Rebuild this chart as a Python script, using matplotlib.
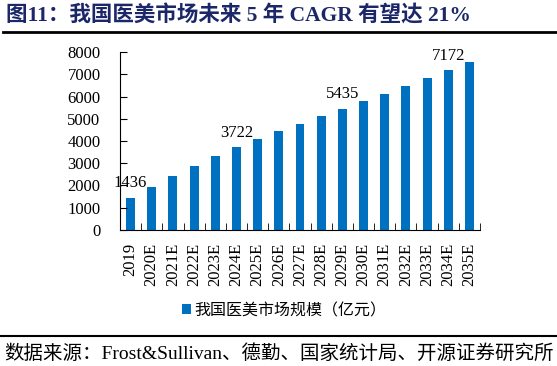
import matplotlib
matplotlib.use("Agg")
import matplotlib.pyplot as plt
import numpy as np

plt.rcParams['font.family'] = ['Liberation Serif', 'Noto Sans CJK SC', 'DejaVu Sans']

years = ['2019', '2020E', '2021E', '2022E', '2023E', '2024E', '2025E', '2026E',
         '2027E', '2028E', '2029E', '2030E', '2031E', '2032E', '2033E', '2034E', '2035E']
market = [1436, 1946, 2430, 2883, 3304, 3722, 4088, 4435,
          4783, 5115, 5435, 5778, 6110, 6472, 6835, 7172, 7542]
labelled = ['2019', '2024E', '2029E', '2034E']

series_name = '我国医美市场规模（亿元）'
title = '图11：我国医美市场未来 5 年 CAGR 有望达 21%'
source = '数据来源：Frost&Sullivan、德勤、国家统计局、开源证券研究所'

fig = plt.figure(figsize=(5.57, 3.66), dpi=100)
ax = fig.add_axes([0.2154, 0.3716, 0.6464, 0.4863])

x = np.arange(len(years))
bars = ax.bar(x, market, width=0.42, color='#0070C0', label=series_name)

for xi, yr, v in zip(x, years, market):
    if yr in labelled:
        ax.text(xi, v + 300, str(v), ha='center', va='bottom', fontsize=12)

ax.set_xlim(-0.5, len(years) - 0.5)
ax.set_ylim(0, 8000)
ax.set_yticks(np.arange(0, 8001, 1000))
ax.set_xticks(x)
ax.set_xticklabels(years, rotation=90)
ax.set_xticks(np.arange(-0.5, len(years), 1), minor=True)
ax.tick_params(axis='x', which='major', length=0, labelsize=12, pad=9)
ax.tick_params(axis='x', which='minor', length=5, direction='in')
ax.tick_params(axis='y', length=5, direction='in', labelsize=12, pad=14)
for s in ['top', 'right']:
    ax.spines[s].set_visible(False)

fig.legend(handles=[bars], labels=[series_name], loc='center',
           bbox_to_anchor=(0.51, 1 - 311 / 366), frameon=False, fontsize=11.5,
           handlelength=0.6, handleheight=0.6, handletextpad=0.2)

fig.text(0.01, 1 - 16 / 366, title, fontsize=15.5, fontweight='bold',
         color='#1B2768', ha='left', va='center')
fig.add_artist(plt.Line2D([0.005, 1.0], [1 - 31.5 / 366] * 2, color='black', lw=2))
fig.add_artist(plt.Line2D([0.0, 1.0], [1 - 336 / 366] * 2, color='black', lw=1.5))
fig.text(0.008, 1 - 354 / 366, source, fontsize=14, ha='left', va='center')

fig.savefig('out.png', dpi=100)
